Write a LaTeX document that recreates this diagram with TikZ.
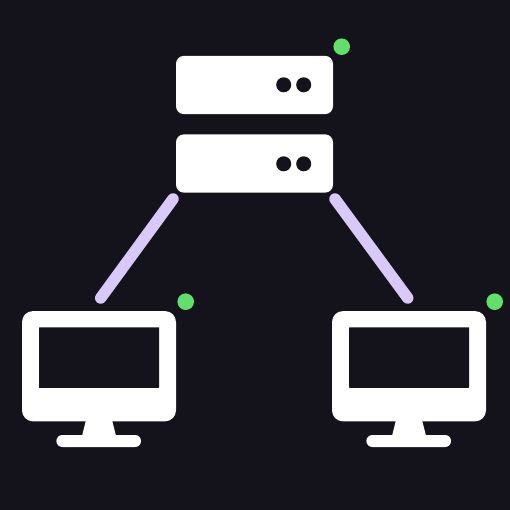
\documentclass[tikz,border=0pt]{standalone}
\definecolor{bgc}{HTML}{14121B}
\definecolor{linkc}{HTML}{D9C9F8}
\definecolor{ledc}{HTML}{5FE068}
\tikzset{
  x=1pt,y=-1pt,
  box/.style={fill=white,draw=none,inner sep=0pt,outer sep=0pt,rectangle},
  serverbox/.style={box,rounded corners=8pt,minimum width=157pt,minimum height=58.3pt},
  hole/.style={circle,fill=bgc,draw=none,inner sep=0pt,minimum size=15pt},
  led/.style={circle,fill=ledc,draw=none,inner sep=0pt,minimum size=16.6pt},
  link/.style={draw=linkc,line width=11.5pt,line cap=round},
  display/.style={box,rounded corners=11pt,minimum width=154pt,minimum height=110.3pt},
  glass/.style={rectangle,fill=bgc,draw=none,inner sep=0pt,minimum width=120pt,minimum height=60.5pt,rounded corners=0.5pt},
  foot/.style={box,rounded corners=6pt,minimum width=84.7pt,minimum height=12pt},
}
\begin{document}
\begin{tikzpicture}
\useasboundingbox (0,0) rectangle (510,510);
\fill[bgc] (0,0) rectangle (510,510);
% server
\node[serverbox] (s1) at (254.5,85) {};
\node[serverbox] (s2) at (254.5,163.5) {};
\node[hole] (s1a) at (283.7,84.8) {};
\node[hole] (s1b) at (303.7,84.8) {};
\node[hole] (s2a) at (283.7,163.8) {};
\node[hole] (s2b) at (303.7,163.8) {};
\node[led] (sled) at (341.7,46.7) {};
% left monitor
\node[display] (m1) at (99,366.2) {};
\node[glass] (g1) at (99,357.5) {};
\fill[white] (86,420) -- (112,420) -- (116,436) -- (82,436) -- cycle;
\node[foot] (f1) at (98.7,441) {};
\node[led] (led1) at (185.7,301.7) {};
% right monitor
\node[display] (m2) at (409,366.2) {};
\node[glass] (g2) at (409,357.5) {};
\fill[white] (396,420) -- (422,420) -- (426,436) -- (392,436) -- cycle;
\node[foot] (f2) at (408.7,441) {};
\node[led] (led2) at (494.7,301.7) {};
% connectors
\coordinate (a1) at (173,199);
\coordinate (b1) at (100.7,298);
\coordinate (a2) at (335,199);
\coordinate (b2) at (407.7,298);
\draw[link] (a1) -- (b1);
\draw[link] (a2) -- (b2);
\end{tikzpicture}
\end{document}
